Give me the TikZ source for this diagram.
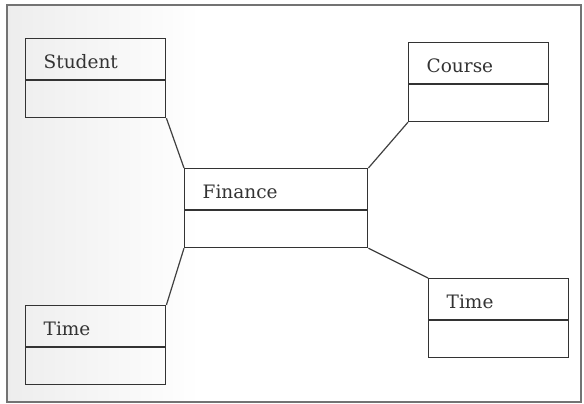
\documentclass[tikz,border=0pt]{standalone}
\usepackage{fontspec}
\setmainfont{DejaVu Serif}
\usepackage{tikz}
\usetikzlibrary{shapes.multipart}

\tikzset{
  cls/.style={draw=black!80, line width=1.4pt, text=black!80,
    rectangle split, rectangle split parts=2,
    rectangle split part align={left},
    inner xsep=18pt, inner ysep=0pt, minimum width=140pt,
    font=\fontsize{18.5}{22}\selectfont, anchor=north west},
  link/.style={draw=black!75, line width=1.2pt}
}
\newcommand{\ctitle}[1]{\rule[-11pt]{0pt}{40pt}#1}
\newcommand{\cbody}{\rule{0pt}{36pt}}

\begin{document}
\begin{tikzpicture}[x=1pt,y=-1pt]
\useasboundingbox (0,0) rectangle (584,404);
\shade[left color=black!7, right color=white] (7,5) rectangle (200,402);
\draw[black!55, line width=1.3pt] (7,5) rectangle (581,402);
\node[cls] (stu) at (25,38) {\ctitle{Student} \nodepart{two} \cbody};
\node[cls] (crs) at (408,42) {\ctitle{Course} \nodepart{two} \cbody};
\node[cls, minimum width=183pt] (fin) at (184,168) {\ctitle{Finance} \nodepart{two} \cbody};
\node[cls] (tml) at (25,305) {\ctitle{Time} \nodepart{two} \cbody};
\node[cls] (tmr) at (428,278) {\ctitle{Time} \nodepart{two} \cbody};
\draw[link] (stu.south east) -- (fin.north west);
\draw[link] (crs.south west) -- (fin.north east);
\draw[link] (fin.south west) -- (tml.north east);
\draw[link] (fin.south east) -- (tmr.north west);
\end{tikzpicture}
\end{document}
